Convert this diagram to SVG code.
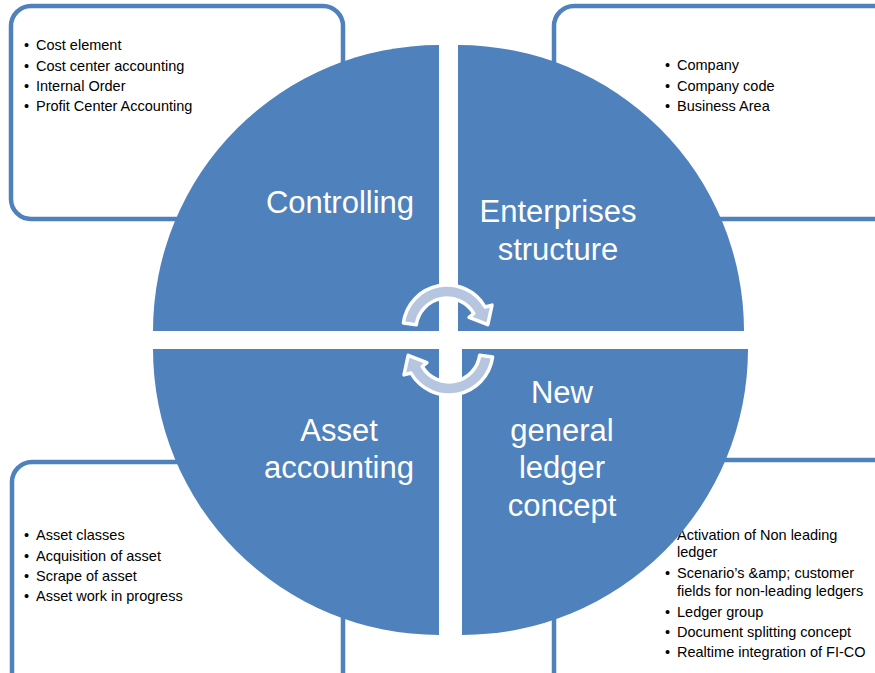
<svg xmlns="http://www.w3.org/2000/svg" width="875" height="673" viewBox="0 0 875 673">
<defs>
<style>
.box{fill:#fff;stroke:#4F81BD;stroke-width:4.5}
.q{fill:#4F81BD}
.t{font-family:"Liberation Sans",Arial,sans-serif;font-size:14.5px;fill:#000}
.big{font-family:"Liberation Sans",Arial,sans-serif;font-size:31px;fill:#fff;text-anchor:middle}
.arr{fill:#B6C5E0;stroke:#fff;stroke-width:3.5;stroke-linejoin:round}
</style>
</defs>
<rect width="875" height="673" fill="#fff"/>
<g id="box-controlling">
<rect class="box" x="11" y="6" width="332" height="213" rx="20"/>
<text class="t"><tspan x="24" y="50">•</tspan><tspan x="36" y="50">Cost element</tspan><tspan x="24" y="70.5">•</tspan><tspan x="36" y="70.5">Cost center accounting</tspan><tspan x="24" y="91">•</tspan><tspan x="36" y="91">Internal Order</tspan><tspan x="24" y="111">•</tspan><tspan x="36" y="111">Profit Center Accounting</tspan></text>
</g>
<g id="box-enterprise">
<rect class="box" x="554" y="6" width="345" height="213" rx="20"/>
<text class="t"><tspan x="665" y="70">•</tspan><tspan x="677" y="70">Company</tspan><tspan x="665" y="90.5">•</tspan><tspan x="677" y="90.5">Company code</tspan><tspan x="665" y="111">•</tspan><tspan x="677" y="111">Business Area</tspan></text>
</g>
<g id="box-asset">
<rect class="box" x="12" y="462" width="331" height="240" rx="20"/>
<text class="t"><tspan x="24" y="540">•</tspan><tspan x="36" y="540">Asset classes</tspan><tspan x="24" y="560.5">•</tspan><tspan x="36" y="560.5">Acquisition of asset</tspan><tspan x="24" y="581">•</tspan><tspan x="36" y="581">Scrape of asset</tspan><tspan x="24" y="601">•</tspan><tspan x="36" y="601">Asset work in progress</tspan></text>
</g>
<g id="box-ledger">
<rect class="box" x="554" y="460" width="345" height="240" rx="20"/>
<text class="t"><tspan x="665" y="540">•</tspan><tspan x="677" y="540">Activation of Non leading</tspan><tspan x="677" y="557">ledger</tspan><tspan x="665" y="578">•</tspan><tspan x="677" y="578">Scenario’s &amp;amp; customer</tspan><tspan x="677" y="596">fields for non-leading ledgers</tspan><tspan x="665" y="616.5">•</tspan><tspan x="677" y="616.5">Ledger group</tspan><tspan x="665" y="637">•</tspan><tspan x="677" y="637">Document splitting concept</tspan><tspan x="665" y="657">•</tspan><tspan x="677" y="657">Realtime integration of FI-CO</tspan></text>
</g>
<g id="q-controlling">
<path class="q" d="M439,331 L153,331 A286,286 0 0 1 439,45 Z"/>
<text class="big" x="340" y="213">Controlling</text>
</g>
<g id="q-enterprise">
<path class="q" d="M458,331 L458,45 A286,286 0 0 1 744,331 Z"/>
<text class="big" x="558" y="222">Enterprises</text>
<text class="big" x="558" y="260">structure</text>
</g>
<g id="q-asset">
<path class="q" d="M439,349 L439,635 A286,286 0 0 1 153,349 Z"/>
<text class="big" x="339" y="441">Asset</text>
<text class="big" x="339" y="478">accounting</text>
</g>
<g id="q-ledger">
<path class="q" d="M462,349 L748,349 A286,286 0 0 1 462,635 Z"/>
<text class="big" x="562" y="403">New</text>
<text class="big" x="562" y="441">general</text>
<text class="big" x="562" y="478">ledger</text>
<text class="big" x="562" y="516">concept</text>
</g>
<g id="connectors">
<path id="arrow-up" class="arr" d="M403.4,322.9 A44,44 0 0 1 485.1,307 L492,305.1 L487.8,324.7 L469.1,317.3 L473.8,313.5 A31,31 0 0 0 416.3,324.7 Z"/>
<path id="arrow-down" class="arr" transform="rotate(180 448 340)" d="M403.4,322.9 A44,44 0 0 1 485.1,307 L492,305.1 L487.8,324.7 L469.1,317.3 L473.8,313.5 A31,31 0 0 0 416.3,324.7 Z"/>
</g>
</svg>
